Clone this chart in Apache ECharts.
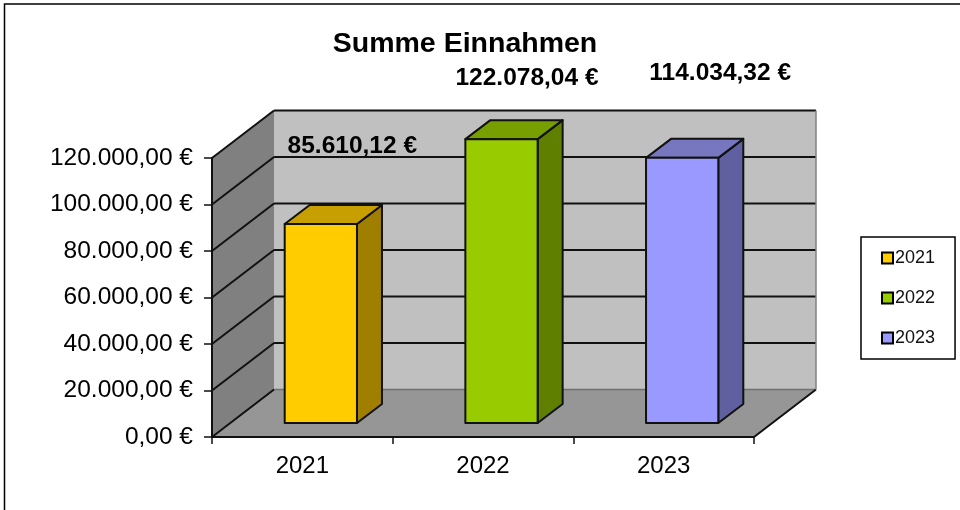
<!DOCTYPE html>
<html>
<head>
<meta charset="utf-8">
<style>html,body{margin:0;padding:0;background:#fff}#c{width:960px;height:510px}</style>
<script src="https://cdn.jsdelivr.net/npm/echarts@6/dist/echarts.min.js"></script>
</head>
<body>
<div id="c"></div>
<script>
const categories = ['2021', '2022', '2023'];
const values = [85610.12, 122078.04, 114034.32];
const yTicks = [0, 20000, 40000, 60000, 80000, 100000, 120000];
const titleText = 'Summe Einnahmen';

// styling and layout, separate from the data
const seriesColors = [
  { front: '#FFCC00', top: '#C79F00', side: '#A07F00' },
  { front: '#99CC00', top: '#779F00', side: '#5F7F00' },
  { front: '#9999FF', top: '#7777BF', side: '#6060A0' }
];
const labelShift = [[31.5, -78], [25.5, -61], [38, -85]];
const WALL = { dx: 62, dy: -47.5 };
const BAR = { dx: 18.5, base: -14, depthX: 25, depthY: -19, widthRatio: 0.4 };
const INK = '#111';
const FONT = '"Liberation Sans", Arial, sans-serif';

function euro(v) {
  const s = v.toFixed(2).split('.');
  return s[0].replace(/\B(?=(\d{3})+$)/g, '.') + ',' + s[1] + ' €';
}

function poly(points, fill, stroke, lw, z2) {
  return {
    type: 'polygon', z2: z2 || 0,
    shape: { points: points },
    style: { fill: fill, stroke: stroke || null, lineWidth: lw || 0, lineJoin: 'round' }
  };
}
function line(a, b, stroke, lw, z2) {
  return {
    type: 'line', z2: z2 || 1,
    shape: { x1: a[0], y1: a[1], x2: b[0], y2: b[1] },
    style: { stroke: stroke, lineWidth: lw }
  };
}

function renderWalls(params, api) {
  const cs = params.coordSys;
  const l = cs.x, r = cs.x + cs.width;
  const y = v => api.coord([0, v])[1];
  const y0 = y(0), yT = y(yTicks[yTicks.length - 1]);
  const d = WALL;
  const kids = [
    poly([[l + d.dx, yT + d.dy], [r + d.dx, yT + d.dy], [r + d.dx, y0 + d.dy], [l + d.dx, y0 + d.dy]], '#C0C0C0'),
    poly([[l, yT], [l + d.dx, yT + d.dy], [l + d.dx, y0 + d.dy], [l, y0]], '#808080'),
    poly([[l, y0], [l + d.dx, y0 + d.dy], [r + d.dx, y0 + d.dy], [r, y0]], '#969696'),
    line([l + d.dx, y0 + d.dy], [r + d.dx, y0 + d.dy], '#707070', 1.5),
    line([r, y0], [r + d.dx, y0 + d.dy], INK, 2),
    line([l, y0], [l + d.dx, y0 + d.dy], INK, 2)
  ];
  yTicks.forEach(t => {
    if (t === 0) return;
    kids.push(line([l, y(t)], [l + d.dx, y(t) + d.dy], INK, 2));
    kids.push(line([l + d.dx, y(t) + d.dy], [r + d.dx, y(t) + d.dy], INK, 2));
  });
  kids.push(line([r + d.dx, yT + d.dy], [r + d.dx, y0 + d.dy], '#808080', 1.5, 2));
  return { type: 'group', children: kids };
}

function renderBar(seriesIndex) {
  return function (params, api) {
    const idx = api.value(0), v = api.value(1);
    const c = seriesColors[seriesIndex];
    const w = api.size([1, 0])[0] * BAR.widthRatio;
    const cx = api.coord([idx, 0])[0] + BAR.dx;
    const yb = api.coord([idx, 0])[1] + BAR.base;
    const yt = api.coord([idx, v])[1] + BAR.base;
    const x0 = cx - w / 2, x1 = cx + w / 2;
    const dx = BAR.depthX, dy = BAR.depthY;
    const shift = labelShift[seriesIndex];
    return {
      type: 'group',
      children: [
        poly([[x1, yt], [x1 + dx, yt + dy], [x1 + dx, yb + dy], [x1, yb]], c.side, INK, 2),
        poly([[x0, yt], [x0 + dx, yt + dy], [x1 + dx, yt + dy], [x1, yt]], c.top, INK, 2),
        poly([[x0, yt], [x1, yt], [x1, yb], [x0, yb]], c.front, INK, 2),
        {
          type: 'text', z2: 10,
          style: {
            x: cx + shift[0], y: yt + shift[1],
            text: euro(v),
            fill: '#000',
            font: 'bold 24.5px ' + FONT,
            textAlign: 'center', textVerticalAlign: 'middle'
          }
        }
      ]
    };
  };
}

const chart = echarts.init(document.getElementById('c'), null, { renderer: 'canvas' });
chart.setOption({
  animation: false,
  backgroundColor: '#fff',
  title: {
    text: titleText, left: 460, top: 25, textAlign: 'center',
    textStyle: { fontFamily: FONT, fontWeight: 'bold', fontSize: 28.5, color: '#000' }
  },
  graphic: [{
    type: 'polyline', silent: true,
    shape: { points: [[4.5, 510], [4.5, 4], [960, 4]] },
    style: { stroke: '#000', lineWidth: 1.5, fill: null }
  }],
  legend: {
    data: categories, orient: 'vertical', left: 861, top: 237,
    padding: [12, 20, 12, 20], itemGap: 22, itemWidth: 11, itemHeight: 11,
    backgroundColor: '#fff', borderColor: '#000', borderWidth: 1.5, borderRadius: 0,
    icon: 'rect',
    itemStyle: { borderColor: '#000', borderWidth: 2 },
    textStyle: { fontFamily: FONT, fontSize: 18, color: '#111', padding: [0, 0, 0, -3] },
    selectedMode: false
  },
  grid: { left: 212, right: 206, top: 158, bottom: 73, containLabel: false },
  xAxis: {
    type: 'category', data: categories, z: 3,
    axisLine: { lineStyle: { color: INK, width: 2 } },
    axisTick: { show: true, length: 7, alignWithLabel: false, lineStyle: { color: INK, width: 1.5 } },
    axisLabel: { fontFamily: FONT, fontSize: 24, color: '#000', margin: 17 }
  },
  yAxis: {
    type: 'value', min: 0, max: 120000, interval: 20000, z: 3,
    axisLine: { show: true, lineStyle: { color: INK, width: 2 } },
    axisTick: { show: true, length: 8, lineStyle: { color: INK, width: 1.5 } },
    splitLine: { show: false },
    axisLabel: { fontFamily: FONT, fontSize: 24.5, color: '#000', margin: 19, padding: [4, 0, 0, 0], formatter: v => euro(v) }
  },
  series: [
    {
      type: 'custom', name: 'walls', silent: true, z: 1, clip: false,
      renderItem: renderWalls, encode: { x: 0, y: 1 }, data: [[0, 0]]
    }
  ].concat(categories.map((name, i) => ({
    type: 'custom', name: name, z: 5, clip: false, silent: true,
    itemStyle: { color: seriesColors[i].front },
    renderItem: renderBar(i), encode: { x: 0, y: 1 },
    data: [[i, values[i]]]
  })))
});
</script>
</body>
</html>
